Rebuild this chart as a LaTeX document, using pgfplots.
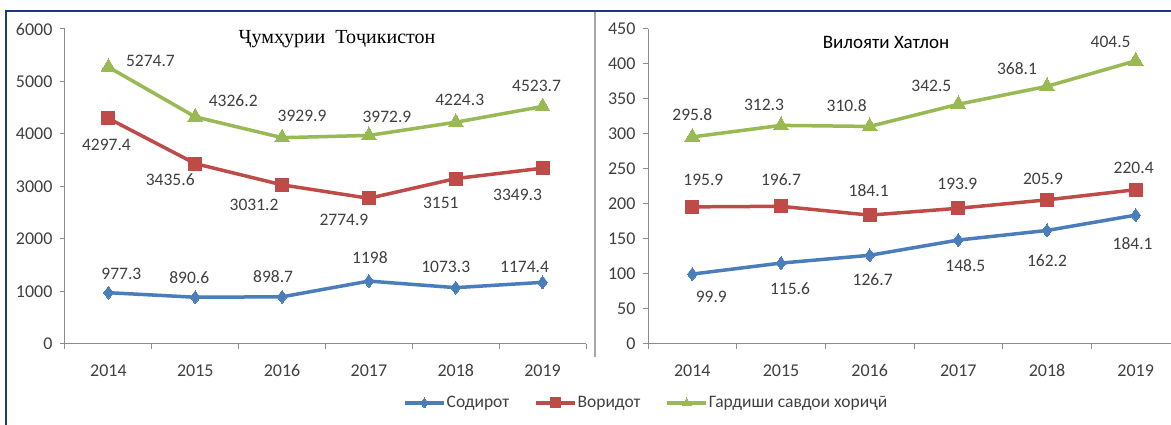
\documentclass[border=0pt]{standalone}
\usepackage{pgfplots}
\pgfplotsset{compat=1.18}
\usepackage{fontspec}
\setmainfont{Carlito}
\newfontfamily\titleserif{Liberation Serif}
\definecolor{sblue}{HTML}{4A7EBB}
\definecolor{sred}{HTML}{BE4B48}
\definecolor{sgreen}{HTML}{98B954}
\definecolor{axgray}{HTML}{8C8C8C}
\definecolor{txt}{HTML}{404040}
\definecolor{framec}{HTML}{1F3A7A}
\newcommand{\lblfont}{\fontsize{17.5}{20}\selectfont}
\newcommand{\tickfont}{\fontsize{18}{21}\selectfont}

\pgfplotsset{
 panel/.style={
  scale only axis, height=315pt, ymin=0, xmin=-0.5, xmax=5.5,
  axis x line*=bottom, axis y line*=left,
  axis line style={axgray, line width=1pt, -},
  xtick={0,...,5}, xticklabels={2014,2015,2016,2017,2018,2019},
  major x tick style={draw=none},
  minor xtick={-0.5,0.5,...,5.5},
  minor tick length=5pt, major tick length=5pt,
  tick align=outside,
  tick style={axgray, line width=1pt},
  tick label style={font=\tickfont, text=txt},
  /pgf/number format/assume math mode=true,
  /pgf/number format/1000 sep={},
  xticklabel style={yshift=-12pt},
  yticklabel style={xshift=-4pt},
  clip=false,
  nodes near coords,
  point meta=explicit symbolic,
  visualization depends on={value \thisrow{dx}\as\dx},
  visualization depends on={value \thisrow{dy}\as\dy},
  every node near coord/.append style={anchor=center, xshift=\dx pt, yshift=\dy pt, font=\lblfont, text=txt, inner sep=0pt},
  legend image code/.code={\draw[mark repeat=2,mark phase=2,##1,mark size=5pt] plot coordinates {(0pt,0pt)(19.5pt,0pt)(39pt,0pt)};},
 },
 sb/.style={sblue, line width=3.5pt, mark=diamond*, mark size=6.5pt, mark options={solid, line width=0pt}},
 sr/.style={sred, line width=3.5pt, mark=square*, mark size=6.5pt, mark options={solid, line width=0pt}},
 sg/.style={sgreen, line width=3.5pt, mark=triangle*, mark size=8.5pt, mark options={solid, line width=0pt}},
}

\begin{document}
\begin{tikzpicture}[x=1pt,y=1pt]
\useasboundingbox (0,0) rectangle (1171,425);
\clip (0,0) rectangle (1171,425);
\fill[white] (0,0) rectangle (1171,425);

\begin{axis}[panel, width=521pt, at={(65pt,81pt)}, anchor=south west,
  ymax=6000, ytick={0,1000,...,6000},
  legend columns=3,
  legend style={draw=none, fill=none, inner sep=0pt, at={(0.6488,-0.1873)}, anchor=west,
    font=\lblfont, text=txt, nodes={inner xsep=1pt},
    /tikz/every even column/.append style={column sep=24pt}},
  ]
\addplot[sb] table[meta=lab] {
x y lab dx dy
0 977.3 977.3 13 19
1 890.6 890.6 -6 20
2 898.7 898.7 -9 20
3 1198 1198 1 24
4 1073.3 1073.3 -10 21
5 1174.4 1174.4 -18 15
};
\addlegendentry{Содирот}
\addplot[sr] table[meta=lab] {
x y lab dx dy
0 4297.4 4297.4 -2 -27
1 3435.6 3435.6 -25 -16
2 3031.2 3031.2 -28 -20
3 2774.9 2774.9 -25 -22
4 3151 3151 -15 -24
5 3349.3 3349.3 -25 -27
};
\addlegendentry{Воридот}
\addplot[sg] table[meta=lab] {
x y lab dx dy
0 5274.7 5274.7 42 6
1 4326.2 4326.2 38 16
2 3929.9 3929.9 20 22
3 3972.9 3972.9 18 19
4 4224.3 4224.3 4 22
5 4523.7 4523.7 -6 21
};
\addlegendentry{Гардиши савдои хориҷӣ}
\end{axis}

\begin{axis}[panel, width=532pt, at={(648pt,81pt)}, anchor=south west,
  ymax=450, ytick={0,50,...,450}]
\addplot[sb] table[meta=lab] {
x y lab dx dy
0 99.9 99.9 19 -23
1 115.6 115.6 9 -26
2 126.7 126.7 3 -24
3 148.5 148.5 7 -26
4 162.2 162.2 0 -30
5 184.1 184.1 -3 -28
};
\addplot[sr] table[meta=lab] {
x y lab dx dy
0 195.9 195.9 11 27
1 196.7 196.7 0 27
2 184.1 184.1 -1 25
3 193.9 193.9 -1 24
4 205.9 205.9 -4 21
5 220.4 220.4 -2 22
};
\addplot[sg] table[meta=lab] {
x y lab dx dy
0 295.8 295.8 0 22
1 312.3 312.3 -17 20
2 310.8 310.8 -23 21
3 342.5 342.5 -27 18
4 368.1 368.1 -30 18
5 404.5 404.5 -25 19
};
\end{axis}

\node[font=\titleserif\fontsize{20}{24}\selectfont, text=black] at (337,386) {Ҷумҳурии\ \ Тоҷикистон};
\node[font=\fontsize{19}{23}\selectfont, text=black] at (886,383) {Вилояти Хатлон};

\draw[gray!70, line width=1.5pt] (595,414) -- (595,68);
\draw[framec, line width=2pt] (6,-20) -- (6,414) -- (1200,414);
\end{tikzpicture}
\end{document}
